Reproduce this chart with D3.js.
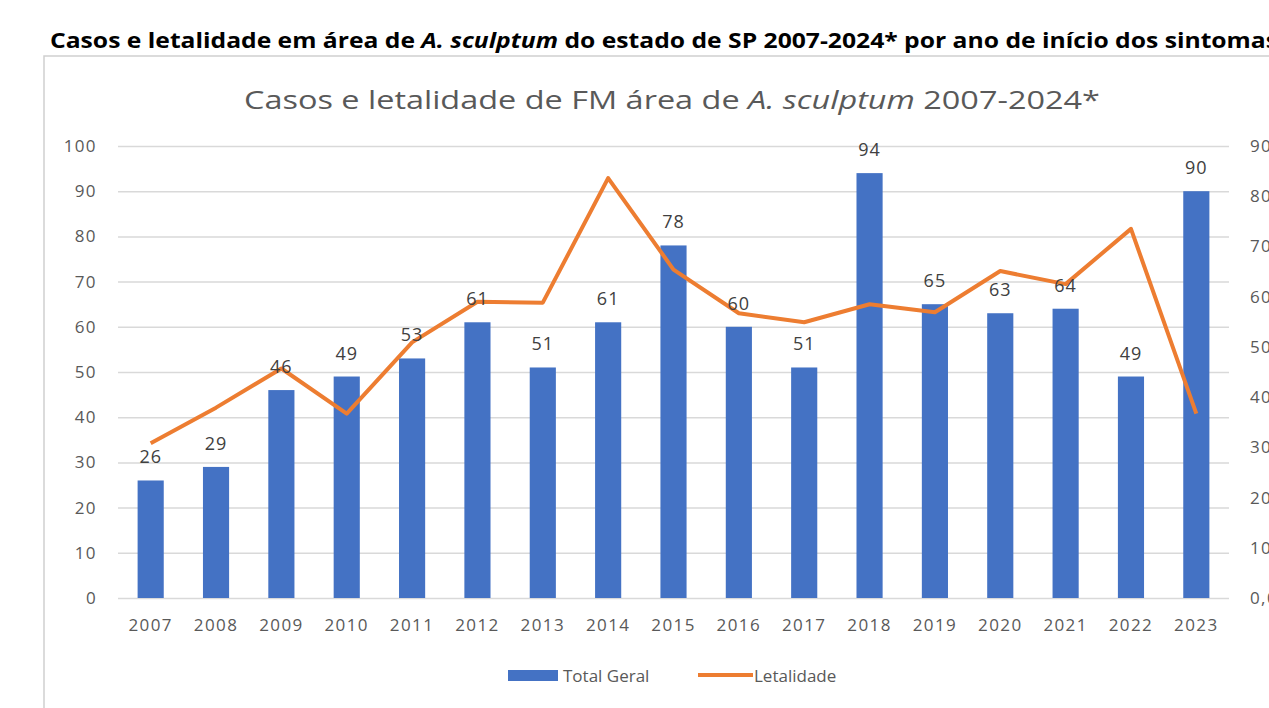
<!DOCTYPE html>
<html>
<head>
<meta charset="utf-8">
<script src="https://cdn.jsdelivr.net/npm/d3@7"></script>
<style>
  body { margin: 0; background: #fff; overflow: hidden; }
  svg { display: block; }
  .axis text { font-family: "Open Sans", sans-serif; font-size: 17px; fill: #595959; letter-spacing: 1.4px; }
</style>
</head>
<body>
<svg width="1269" height="708"></svg>
<script>
const years = ["2007","2008","2009","2010","2011","2012","2013","2014","2015","2016","2017","2018","2019","2020","2021","2022","2023"];
const totalGeral = [26,29,46,49,53,61,51,61,78,60,51,94,65,63,64,49,90];
const letalidade = [30.8,37.9,45.7,36.7,50.9,59.0,58.8,83.6,65.4,56.7,54.9,58.5,56.9,65.1,62.5,73.5,36.7];
const leftTicks = [0,10,20,30,40,50,60,70,80,90,100];
const rightTicks = [0,10,20,30,40,50,60,70,80,90];

const plot = { left: 118, right: 1229, top: 146, bottom: 598 };
const blue = "#4472C4", orange = "#ED7D31";

const svg = d3.select("svg");

// header outside the chart box
svg.append("text")
  .attr("x", 50).attr("y", 48)
  .attr("textLength", 1228).attr("lengthAdjust", "spacingAndGlyphs")
  .style("font-family", "'Open Sans', sans-serif")
  .style("font-size", "22px").style("font-weight", "bold").style("fill", "#000")
  .call(t => {
    t.append("tspan").text("Casos e letalidade em área de ");
    t.append("tspan").style("font-style", "italic").text("A. sculptum");
    t.append("tspan").text("  do estado de SP 2007-2024* por ano de início dos sintomas");
  });

// chart frame
svg.append("path")
  .attr("d", "M44,708 V56 H1269")
  .attr("fill", "none").attr("stroke", "#d0d0d0").attr("stroke-width", 1.5);

// chart title
svg.append("text")
  .attr("x", 672).attr("y", 109)
  .attr("text-anchor", "middle")
  .attr("textLength", 856).attr("lengthAdjust", "spacingAndGlyphs")
  .style("font-family", "'Open Sans', sans-serif")
  .style("font-size", "25px").style("fill", "#595959")
  .call(t => {
    t.append("tspan").text("Casos e letalidade de FM área de ");
    t.append("tspan").style("font-style", "italic").text("A. sculptum");
    t.append("tspan").text(" 2007-2024*");
  });

const x = d3.scaleBand().domain(years).range([plot.left, plot.right])
  .paddingInner(0.6).paddingOuter(0.3);
const yL = d3.scaleLinear().domain([0, 100]).range([plot.bottom, plot.top]);
const yR = d3.scaleLinear().domain([0, 90]).range([plot.bottom, plot.top]);

// left axis + gridlines
const gL = svg.append("g").attr("class", "axis")
  .attr("transform", `translate(${plot.left},0)`)
  .call(d3.axisLeft(yL).tickValues(leftTicks)
    .tickSizeInner(-(plot.right - plot.left)).tickSizeOuter(0).tickPadding(21));
gL.select(".domain").remove();
gL.selectAll("line").attr("stroke", "#d9d9d9").attr("stroke-width", 1.5);

// right axis (cut by the page edge, as in the source image)
const gR = svg.append("g").attr("class", "axis")
  .attr("transform", `translate(${plot.right},0)`)
  .call(d3.axisRight(yR).tickValues(rightTicks).tickSize(0).tickPadding(21)
    .tickFormat(d => d3.format(".1f")(d).replace(".", ",") + "%"));
gR.select(".domain").remove();

// bottom axis
const gB = svg.append("g").attr("class", "axis")
  .attr("transform", `translate(0,${plot.bottom})`)
  .call(d3.axisBottom(x).tickSize(0).tickPadding(21));
gB.select(".domain").remove();

// bars
svg.append("g").selectAll("rect")
  .data(years)
  .join("rect")
  .attr("x", d => x(d))
  .attr("y", (d, i) => yL(totalGeral[i]))
  .attr("width", x.bandwidth())
  .attr("height", (d, i) => yL(0) - yL(totalGeral[i]))
  .attr("fill", blue);

// line
const line = d3.line()
  .x((d, i) => x(years[i]) + x.bandwidth() / 2)
  .y(d => yR(d));
svg.append("path")
  .datum(letalidade)
  .attr("d", line)
  .attr("fill", "none").attr("stroke", orange)
  .attr("stroke-width", 4).attr("stroke-linejoin", "round");

// bar value labels
svg.append("g").selectAll("text")
  .data(years)
  .join("text")
  .attr("x", d => x(d) + x.bandwidth() / 2)
  .attr("y", (d, i) => yL(totalGeral[i]) - 17)
  .attr("text-anchor", "middle")
  .style("font-family", "'Open Sans', sans-serif")
  .style("font-size", "18px").style("fill", "#404040").style("letter-spacing", "1px")
  .text((d, i) => totalGeral[i]);

// legend
const lg = svg.append("g");
lg.append("rect").attr("x", 508).attr("y", 670).attr("width", 50).attr("height", 11).attr("fill", blue);
lg.append("text").attr("x", 563).attr("y", 682)
  .style("font-family", "'Open Sans', sans-serif").style("font-size", "17px").style("fill", "#595959")
  .text("Total Geral");
lg.append("line").attr("x1", 698).attr("x2", 753).attr("y1", 675).attr("y2", 675)
  .attr("stroke", orange).attr("stroke-width", 4);
lg.append("text").attr("x", 754).attr("y", 682)
  .style("font-family", "'Open Sans', sans-serif").style("font-size", "17px").style("fill", "#595959")
  .text("Letalidade");
</script>
</body>
</html>
